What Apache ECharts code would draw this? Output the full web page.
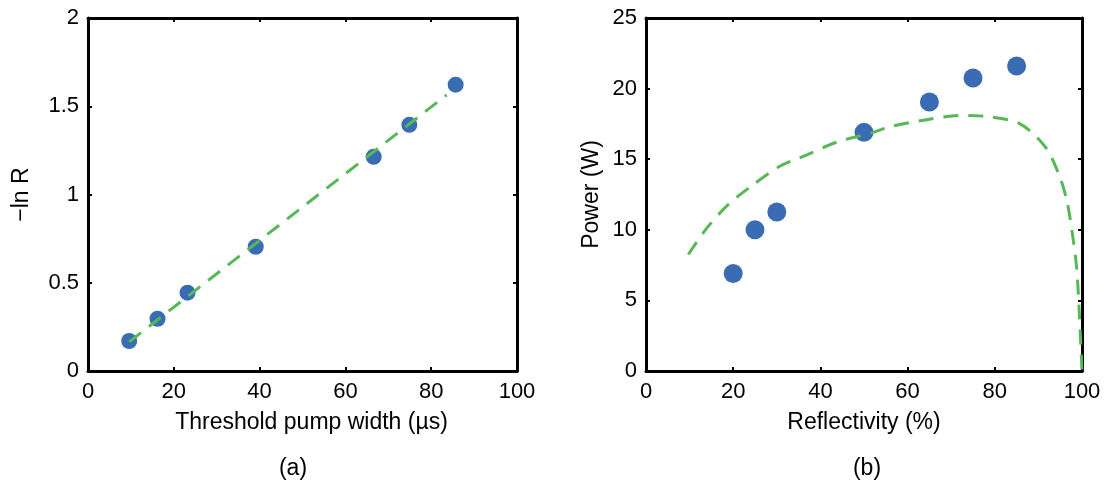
<!DOCTYPE html>
<html>
<head>
<meta charset="utf-8">
<script src="https://cdn.jsdelivr.net/npm/echarts@6/dist/echarts.min.js"></script>
<style>
html,body{margin:0;padding:0;background:#fff;}
#chart{width:1104px;height:487px;}
</style>
</head>
<body>
<div id="chart"></div>
<script>
// Panel (a): threshold pump width vs -ln R
const pumpWidth = [9.6, 16.2, 23.2, 39.1, 66.6, 74.9, 85.7];
const negLnR = [0.17, 0.296, 0.444, 0.704, 1.214, 1.395, 1.622];
const fitX = [9.6, 83.6];
const fitY = [0.165, 1.564];

// Panel (b): reflectivity vs power
const reflectivity = [20, 25, 30, 50, 65, 75, 85];
const power = [6.9, 10.0, 11.26, 16.9, 19.05, 20.75, 21.6];
const modelR = [9.7, 13.9, 18.9, 24.6, 30.7, 36.9, 43.7, 52.1, 56, 64.4, 72, 78.9, 85.8, 91.5, 94.6, 96.5, 97.9, 98.8, 99.4, 100];
const modelP = [8.25, 10.1, 11.8, 13.2, 14.5, 15.3, 16.2, 16.9, 17.3, 17.8, 18.1, 18.0, 17.5, 15.9, 14.0, 12.1, 9.5, 7.2, 4.0, 0];

const xTicksA = [0, 20, 40, 60, 80, 100];
const yTicksA = [0, 0.5, 1, 1.5, 2];
const xTicksB = [0, 20, 40, 60, 80, 100];
const yTicksB = [0, 5, 10, 15, 20, 25];

const FONT = 'Liberation Sans, Arial, sans-serif';
const BLUE = '#3A6CB4';
const GREEN = '#57B857';
const NAME_SIZE = 23;
const TICK_SIZE = 22;

const pair = (xs, ys) => xs.map((x, i) => [x, ys[i]]);

function mainX(gridIndex, name, ticks, pad) {
  return {
    type: 'value', gridIndex, position: 'bottom',
    min: ticks[0], max: ticks[ticks.length - 1], interval: ticks[1] - ticks[0],
    name, nameLocation: 'middle', nameGap: 40,
    nameTextStyle: {fontFamily: FONT, fontSize: NAME_SIZE, color: '#000', padding: pad},
    axisLine: {show: true, onZero: false, lineStyle: {color: '#000', width: 3}},
    axisTick: {show: true, inside: true, length: 4, lineStyle: {color: '#000', width: 2}},
    axisLabel: {fontFamily: FONT, fontSize: TICK_SIZE, color: '#000', margin: 10},
    splitLine: {show: false}
  };
}
function mirrorX(gridIndex, ticks) {
  return {
    type: 'value', gridIndex, position: 'top',
    min: ticks[0], max: ticks[ticks.length - 1], interval: ticks[1] - ticks[0],
    axisLine: {show: true, onZero: false, lineStyle: {color: '#000', width: 3}},
    axisTick: {show: true, inside: true, length: 4, lineStyle: {color: '#000', width: 2}},
    axisLabel: {show: false}, splitLine: {show: false}
  };
}
function mainY(gridIndex, name, ticks, gap) {
  return {
    type: 'value', gridIndex, position: 'left',
    min: ticks[0], max: ticks[ticks.length - 1], interval: ticks[1] - ticks[0],
    name, nameLocation: 'middle', nameGap: gap, nameRotate: 90,
    nameTextStyle: {fontFamily: FONT, fontSize: NAME_SIZE, color: '#000'},
    axisLine: {show: true, onZero: false, lineStyle: {color: '#000', width: 3}},
    axisTick: {show: true, inside: true, length: 4, lineStyle: {color: '#000', width: 2}},
    axisLabel: {fontFamily: FONT, fontSize: TICK_SIZE, color: '#000', margin: 9},
    splitLine: {show: false}
  };
}
function mirrorY(gridIndex, ticks) {
  return {
    type: 'value', gridIndex, position: 'right',
    min: ticks[0], max: ticks[ticks.length - 1], interval: ticks[1] - ticks[0],
    axisLine: {show: true, onZero: false, lineStyle: {color: '#000', width: 3}},
    axisTick: {show: true, inside: true, length: 4, lineStyle: {color: '#000', width: 2}},
    axisLabel: {show: false}, splitLine: {show: false}
  };
}

const chart = echarts.init(document.getElementById('chart'), null, {renderer: 'canvas'});
chart.setOption({
  backgroundColor: '#fff',
  animation: false,
  title: [
    {text: '(a)', left: 288, top: 452, textAlign: 'center',
     textStyle: {fontFamily: FONT, fontSize: NAME_SIZE, fontWeight: 'normal', color: '#000'}},
    {text: '(b)', left: 862, top: 452, textAlign: 'center',
     textStyle: {fontFamily: FONT, fontSize: NAME_SIZE, fontWeight: 'normal', color: '#000'}}
  ],
  grid: [
    {left: 88, top: 18, width: 429, height: 353},
    {left: 646, top: 18, width: 436, height: 353}
  ],
  xAxis: [
    mainX(0, 'Threshold pump width (\u00b5s)', xTicksA, [0, 0, 0, 18]),
    mirrorX(0, xTicksA),
    mainX(1, 'Reflectivity (%)', xTicksB, [0, 0, 0, 0]),
    mirrorX(1, xTicksB)
  ],
  yAxis: [
    mainY(0, '\u2212ln R', yTicksA, 55),
    mirrorY(0, yTicksA),
    mainY(1, 'Power (W)', yTicksB, 43),
    mirrorY(1, yTicksB)
  ],
  series: [
    {type: 'scatter', xAxisIndex: 0, yAxisIndex: 0, data: pair(pumpWidth, negLnR),
     symbol: 'circle', symbolSize: 16, itemStyle: {color: BLUE, opacity: 1}, z: 2},
    {type: 'line', xAxisIndex: 0, yAxisIndex: 0, data: pair(fitX, fitY),
     symbol: 'none', lineStyle: {color: GREEN, width: 3, type: [15, 10]}, z: 3},
    {type: 'scatter', xAxisIndex: 2, yAxisIndex: 2, data: pair(reflectivity, power),
     symbol: 'circle', symbolSize: 19, itemStyle: {color: BLUE, opacity: 1}, z: 2},
    {type: 'line', xAxisIndex: 2, yAxisIndex: 2, data: pair(modelR, modelP),
     symbol: 'none', smooth: 0.3, lineStyle: {color: GREEN, width: 3, type: [15, 10]}, z: 3}
  ]
});
</script>
</body>
</html>
